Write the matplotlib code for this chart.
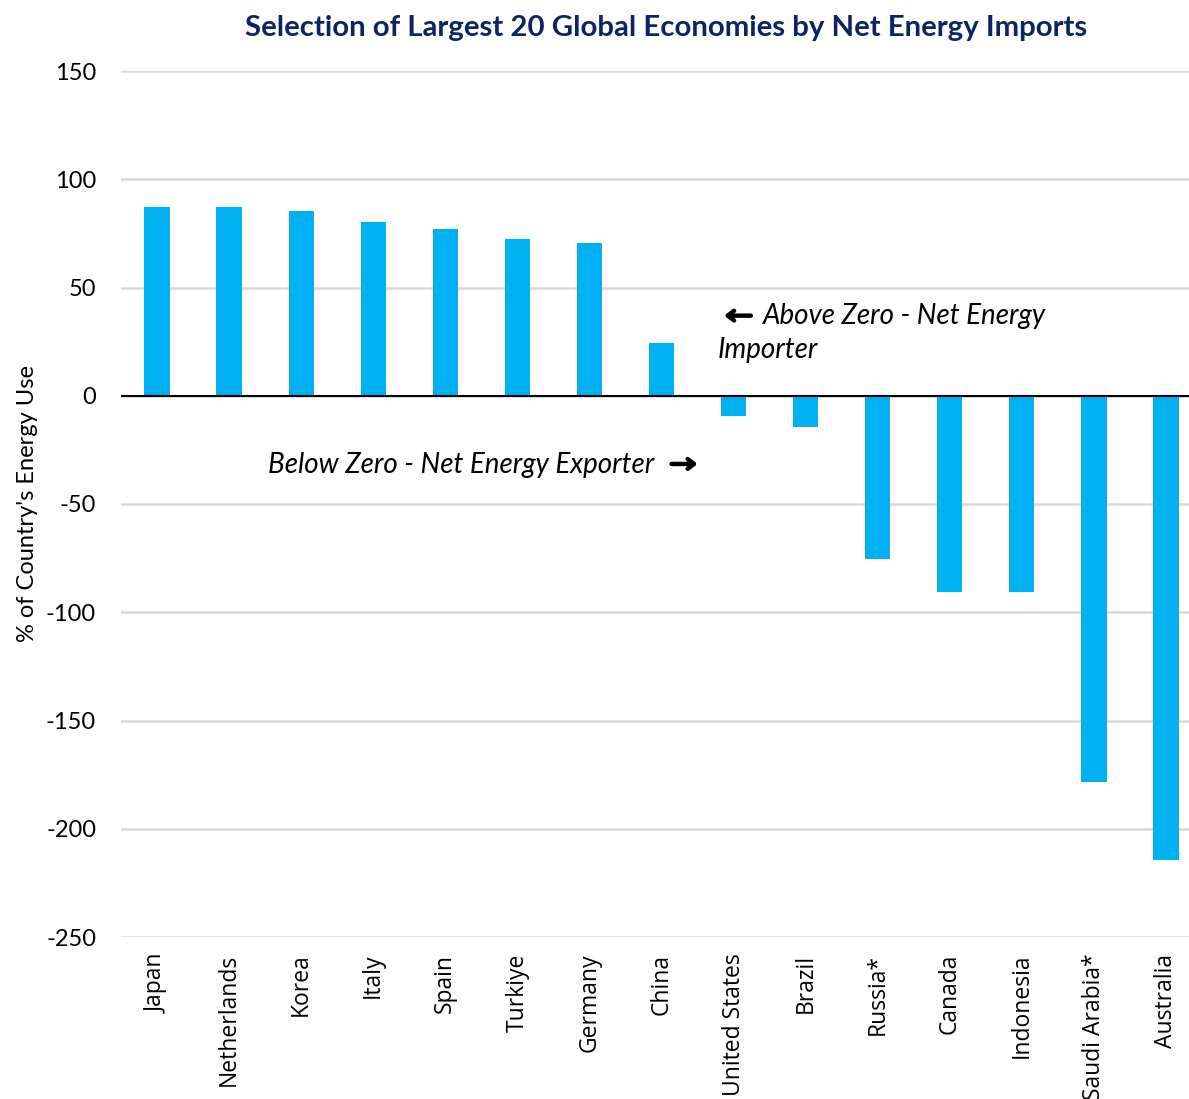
import matplotlib
matplotlib.use("Agg")
import matplotlib.pyplot as plt
import numpy as np

countries = ["Japan", "Netherlands", "Korea", "Italy", "Spain", "Turkiye", "Germany",
             "China", "United States", "Brazil", "Russia*", "Canada", "Indonesia",
             "Saudi Arabia*", "Australia"]
net_imports = [87.3, 87.2, 85.5, 80.4, 77.1, 72.5, 70.7, 24.5, -9.2, -14.3, -75.3,
               -90.5, -90.5, -178.3, -214.3]
yticks = [150, 100, 50, 0, -50, -100, -150, -200, -250]

W, H = 1189, 1099
fig = plt.figure(figsize=(W / 100, H / 100), dpi=100)
left_px, right_px, top_px, bot_px = 121, 1202, 71, 937
ax = fig.add_axes([left_px / W, 1 - bot_px / H, (right_px - left_px) / W, (bot_px - top_px) / H])

x = np.arange(len(countries))
ax.bar(x, net_imports, width=0.35, color="#00B0F0", zorder=3)
ax.set_xlim(-0.5, len(countries) - 0.5)
ax.set_ylim(-250, 150)
ax.set_yticks(yticks)
ax.set_yticklabels([str(v) for v in yticks], fontfamily="Lato", fontsize=17)
ax.set_xticks(x)
ax.set_xticklabels(countries, rotation=90, fontfamily="Open Sans", fontsize=16.5, va="top")
ax.tick_params(axis="both", length=0)
ax.tick_params(axis="y", pad=18)
ax.tick_params(axis="x", pad=12)
ax.grid(axis="y", color="#d9d9d9", linewidth=1.8, zorder=0)
for s in ax.spines.values():
    s.set_visible(False)
ax.axhline(0, color="black", linewidth=1.5, zorder=4)

ax.set_ylabel("% of Country's Energy Use", fontfamily="Lato", fontsize=17, labelpad=6)

fig.text(0.5606, 1 - 28 / H, "Selection of Largest 20 Global Economies by Net Energy Imports",
         ha="center", va="center", fontfamily="Lato", fontweight="bold", fontsize=21.2,
         color="#0D2463")

arrow = dict(arrowstyle="->,head_length=0.45,head_width=0.35", lw=3.2, color="black",
             shrinkA=0, shrinkB=0)
ax.annotate("", xy=(7.87, 37), xytext=(8.24, 37), arrowprops=arrow)
ax.text(8.41, 37, "Above Zero - Net Energy", fontfamily="Lato", fontstyle="italic",
        fontsize=20, ha="left", va="center")
ax.text(7.78, 21.2, "Importer", fontfamily="Lato", fontstyle="italic",
        fontsize=20, ha="left", va="center")
ax.text(1.54, -32, "Below Zero - Net Energy Exporter", fontfamily="Lato", fontstyle="italic",
        fontsize=20, ha="left", va="center")
ax.annotate("", xy=(7.5, -31.5), xytext=(7.14, -31.5), arrowprops=arrow)

fig.savefig("out.png", dpi=100)
